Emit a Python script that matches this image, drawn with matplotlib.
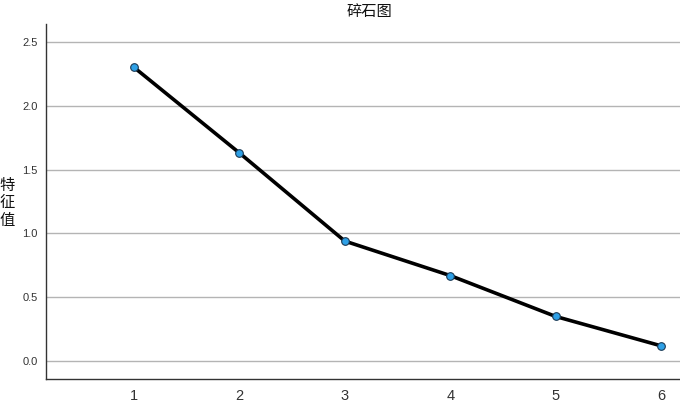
import matplotlib
matplotlib.use("Agg")
import matplotlib.pyplot as plt

components = [1, 2, 3, 4, 5, 6]
eigenvalues = [2.30, 1.63, 0.94, 0.67, 0.35, 0.12]
yticks = [0.0, 0.5, 1.0, 1.5, 2.0, 2.5]
title = "碎石图"
ylabel = "特征值"

plt.rcParams['font.family'] = ['Liberation Sans', 'Noto Sans CJK SC', 'DejaVu Sans']

fig = plt.figure(figsize=(6.8, 4.12), dpi=100)
ax = fig.add_axes([0.0676, 0.080, 0.9324, 0.862])

for y in yticks:
    ax.axhline(y, color='#b4b4b4', lw=1.0, zorder=1)

ax.plot(components, eigenvalues, color='black', lw=2.6, zorder=2,
        marker='o', markersize=5.5, markerfacecolor='#2ea0e6',
        markeredgecolor='#1a3a55', markeredgewidth=0.8)

ax.set_xlim(0.165, 6.18)
ax.set_ylim(-0.14, 2.64)
ax.set_xticks(components)
ax.set_xticklabels([str(c) for c in components], fontsize=10.5, color='#333333')
ax.set_yticks(yticks)
ax.set_yticklabels([f"{v:.1f}" for v in yticks], fontsize=8, color='#333333')
ax.tick_params(axis='both', length=0)
ax.tick_params(axis='x', pad=7)
ax.tick_params(axis='y', pad=6)

for s in ['top', 'right']:
    ax.spines[s].set_visible(False)
ax.spines['left'].set_color('#333333')
ax.spines['bottom'].set_color('#333333')
ax.spines['left'].set_linewidth(1.0)
ax.spines['bottom'].set_linewidth(1.0)

fig.text(0.543, 0.971, title, ha='center', va='center', fontsize=11,
         fontweight='medium', color='#111111', family=['Noto Sans CJK SC', 'DejaVu Sans'])
fig.text(0.011, 0.508, "\n".join(ylabel), ha='center', va='center', fontsize=11,
         fontweight='medium', color='#111111', linespacing=1.05,
         family=['Noto Sans CJK SC', 'DejaVu Sans'])

fig.savefig("out.png", dpi=100)
